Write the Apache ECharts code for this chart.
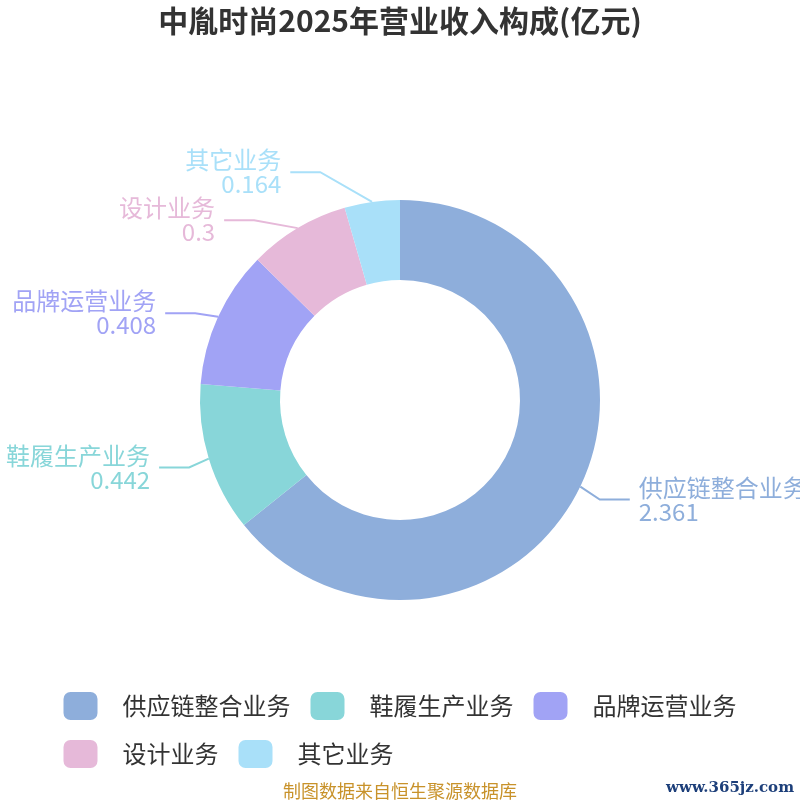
<!DOCTYPE html>
<html>
<head>
    <meta charset="utf-8">
    <title>中胤时尚2025年营业收入构成</title>
    <script src="https://cdn.jsdelivr.net/npm/echarts@6/dist/echarts.min.js"></script>
    <style>
        html, body { margin: 0; padding: 0; background: #fff; }
        #main { width: 800px; height: 800px; }
    </style>
</head>
<body>
    <div id="main"></div>
<script>
    // 业务名称与收入(亿元)
    var categories = ['供应链整合业务', '鞋履生产业务', '品牌运营业务', '设计业务', '其它业务'];
    var revenues = [2.361, 0.442, 0.408, 0.3, 0.164];
    var colors = ['#8eaedb', '#88d6d9', '#a1a3f5', '#e6b9d9', '#a9e0f9'];

    var pieData = [];
    for (var i = 0; i < categories.length; i++) {
        pieData.push({ name: categories[i], value: revenues[i] });
    }

    var myChart = echarts.init(document.getElementById('main'));
    var lineLen = 25, lineLen2 = 30, labelH = 48;
    var oldLayout = null;

    // 仿旧版(4.x)饼图标签排布: 先纵向挤开, 再按圆弧重算x
    function buildOldLayout() {
        var w = myChart.getWidth(), h = myChart.getHeight();
        var cx = w / 2, cy = h / 2;
        var r = Math.min(w, h) / 2 * 0.5;
        var R = r + lineLen + lineLen2;
        var total = 0, acc = 0;
        for (var i = 0; i < revenues.length; i++) total += revenues[i];
        var left = [], right = [], items = [];
        for (var i = 0; i < revenues.length; i++) {
            var mid = (acc + revenues[i] / 2) / total * Math.PI * 2;
            acc += revenues[i];
            var it = {
                idx: i,
                dir: Math.sin(mid) < 0 ? -1 : 1,
                x: cx + Math.sin(mid) * (r + lineLen + 5),
                y: cy - Math.cos(mid) * (r + lineLen + 5),
                height: labelH
            };
            items[i] = it;
            (it.dir < 0 ? left : right).push(it);
        }
        [left, right].forEach(function (list) {
            list.sort(function (a, b) { return a.y - b.y; });
            function shiftUp(end, delta) {
                for (var j = end; j >= 0; j--) {
                    if (list[j].y - delta < 0) break;
                    list[j].y -= delta;
                    if (j > 0 && list[j].y > list[j - 1].y + list[j - 1].height) break;
                }
            }
            function shiftDown(start, end, delta) {
                for (var j = start; j < end; j++) {
                    if (list[j].y + delta > h) break;
                    list[j].y += delta;
                    if (j > start && j + 1 < end && list[j + 1].y > list[j].y + list[j].height) {
                        shiftUp(j, delta / 2);
                        return;
                    }
                }
                shiftUp(end - 1, delta / 2);
            }
            var lastY = 0;
            for (var k = 0; k < list.length; k++) {
                var d = list[k].y - lastY;
                if (d < 0) shiftDown(k, list.length, -d);
                lastY = list[k].y + list[k].height;
            }
            var lastUp = 0, lastDown = Infinity;
            list.forEach(function (it) {
                var dy = Math.abs(it.y - cy);
                var dx = dy < R ? Math.sqrt(R * R - dy * dy) : Math.abs(it.x - cx);
                if (it.y < cy) {
                    if (dx <= lastUp) dx = lastUp + 10;
                    lastUp = dx;
                } else {
                    if (dx >= lastDown) dx = lastDown - 10;
                    lastDown = dx;
                }
                it.x = cx + dx * it.dir;
            });
        });
        return items;
    }

    function oldStyleLabel(params) {
        var pts = params.labelLinePoints;
        if (!pts) return;
        if (!oldLayout) oldLayout = buildOldLayout();
        var it = oldLayout[params.dataIndex];
        var dir = it.dir;
        var lineEnd = it.x - dir * 5;
        return {
            x: it.x + dir * 4,
            y: it.y,
            align: dir < 0 ? 'right' : 'left',
            verticalAlign: 'middle',
            labelLinePoints: [pts[0].slice(), [lineEnd - dir * lineLen2, it.y], [lineEnd, it.y]]
        };
    }

    myChart.setOption({
        color: colors,
        title: {
            text: '中胤时尚2025年营业收入构成(亿元)',
            left: 'center',
            top: 1,
            textStyle: {
                fontSize: 30,
                fontWeight: 'bold',
                color: '#333',
                fontFamily: 'Noto Sans CJK SC'
            }
        },
        legend: {
            bottom: 27,
            left: 'center',
            width: 720,
            itemWidth: 34,
            itemHeight: 28,
            itemGap: 20,
            icon: 'roundRect',
            textStyle: {
                fontSize: 24,
                color: '#333',
                padding: [0, 0, 0, 20],
                fontFamily: 'Noto Sans CJK SC'
            },
            data: categories
        },
        graphic: [
            {
                type: 'text',
                left: 'center',
                bottom: 0,
                style: { text: '制图数据来自恒生聚源数据库', fontSize: 18, fill: '#c8922a', fontFamily: 'Noto Sans CJK SC' }
            },
            {
                type: 'text',
                right: 6,
                bottom: 4,
                style: { text: 'www.365jz.com', fontSize: 15, fontWeight: 'bold', fill: '#1d3f7a', fontFamily: 'DejaVu Serif' }
            }
        ],
        series: [{
            type: 'pie',
            center: ['50%', '50%'],
            radius: ['30%', '50%'],
            startAngle: 90,
            clockwise: true,
            data: pieData,
            label: {
                formatter: '{b}\n{c}',
                color: 'inherit',
                fontSize: 24,
                lineHeight: 24,
                overflow: 'none',
                fontFamily: 'Noto Sans CJK SC'
            },
            labelLine: { length: lineLen, length2: lineLen2, lineStyle: { width: 2 } },
            labelLayout: oldStyleLabel
        }]
    });
</script>
</body>
</html>
